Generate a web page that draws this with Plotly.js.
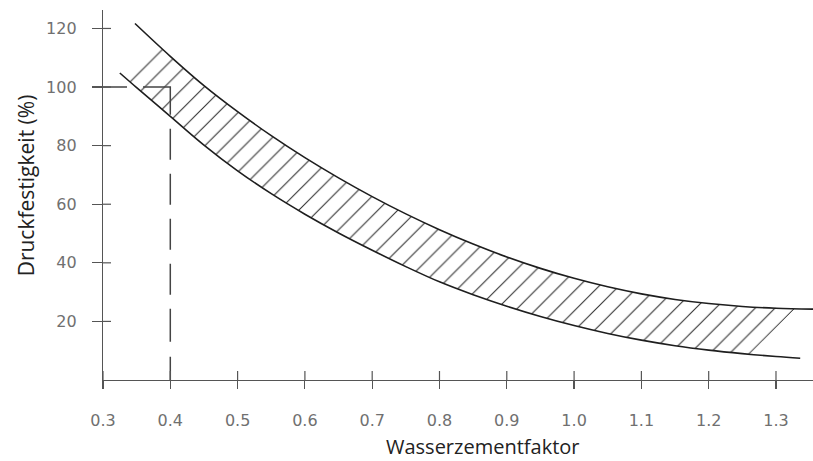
<!DOCTYPE html>
<html>
<head>
<meta charset="utf-8">
<script src="https://cdn.plot.ly/plotly-3.0.1.min.js"></script>
<style>html,body{margin:0;padding:0;background:#fff;}#chart{width:813px;height:461px;}</style>
</head>
<body>
<div id="chart"></div>
<script>
// Upper boundary of the strength band
const upperX = [0.3475, 0.40, 0.45, 0.50, 0.55, 0.60, 0.65, 0.70, 0.75, 0.80, 0.85, 0.90, 0.95, 1.00, 1.05, 1.10, 1.15, 1.20, 1.25, 1.30, 1.355];
const upperY = [121.7, 110.5, 100.5, 91.6, 83.4, 75.9, 69, 62.6, 56.7, 51.3, 46.4, 42, 38.1, 34.7, 31.8, 29.4, 27.5, 26.1, 25.1, 24.5, 24.2];
// Lower boundary of the strength band
const lowerX = [0.325, 0.35, 0.40, 0.45, 0.50, 0.55, 0.60, 0.65, 0.70, 0.75, 0.80, 0.85, 0.90, 0.95, 1.00, 1.05, 1.10, 1.15, 1.20, 1.25, 1.30, 1.336];
const lowerY = [104.8, 99.8, 90, 80.2, 71.4, 63.6, 56.6, 50.2, 44.3, 38.7, 33.5, 29.1, 25.2, 21.7, 18.6, 15.9, 13.6, 11.7, 10.2, 9, 8, 7.4];
// Extent of the hatching along each curve [start, end]
const hatchLowerX = [0.336, 1.261];
const hatchUpperX = [0.377, 1.328];
// Reference reading: w/c 0.4 -> 100 %
const refX = 0.4;
const refY = 100;
// Ticks
const xTickVals = [0.3, 0.4, 0.5, 0.6, 0.7, 0.8, 0.9, 1.0, 1.1, 1.2, 1.3];
const xTickText = ['0.3', '0.4', '0.5', '0.6', '0.7', '0.8', '0.9', '1.0', '1.1', '1.2', '1.3'];
const yTickVals = [20, 40, 60, 80, 100, 120];
const xTitle = 'Wasserzementfaktor';
const yTitle = 'Druckfestigkeit (%)';

function interp(xs, ys, x) {
  for (let i = 0; i < xs.length - 1; i++) {
    if (x >= xs[i] && x <= xs[i + 1]) {
      const t = (x - xs[i]) / (xs[i + 1] - xs[i]);
      return ys[i] + t * (ys[i + 1] - ys[i]);
    }
  }
  return x < xs[0] ? ys[0] : ys[ys.length - 1];
}

// Hatched polygon built from the two curves
const polyX = [], polyY = [];
polyX.push(hatchUpperX[0]); polyY.push(interp(upperX, upperY, hatchUpperX[0]));
upperX.forEach((x, i) => { if (x > hatchUpperX[0] && x < hatchUpperX[1]) { polyX.push(x); polyY.push(upperY[i]); } });
polyX.push(hatchUpperX[1]); polyY.push(interp(upperX, upperY, hatchUpperX[1]));
polyX.push(hatchLowerX[1]); polyY.push(interp(lowerX, lowerY, hatchLowerX[1]));
for (let i = lowerX.length - 1; i >= 0; i--) {
  if (lowerX[i] > hatchLowerX[0] && lowerX[i] < hatchLowerX[1]) { polyX.push(lowerX[i]); polyY.push(lowerY[i]); }
}
polyX.push(hatchLowerX[0]); polyY.push(interp(lowerX, lowerY, hatchLowerX[0]));

const W = 813, H = 461;
const M = {l: 103, r: 0, t: 10, b: 81};
const xr = [0.3, 1.355];
const yr = [0, 126.3];
const axisColor = '#555';

// Inner halves of the crossing tick marks (axis units per pixel from the layout)
const dxPerPx = (xr[1] - xr[0]) / (W - M.l - M.r);
const dyPerPx = (yr[1] - yr[0]) / (H - M.t - M.b);
const tickInX = [], tickInY = [];
xTickVals.forEach(v => { tickInX.push(v, v, null); tickInY.push(yr[0], yr[0] + 9 * dyPerPx, null); });
yTickVals.forEach(v => { tickInX.push(xr[0], xr[0] + 8 * dxPerPx, null); tickInY.push(v, v, null); });

const traces = [
  {
    x: polyX, y: polyY, type: 'scatter', mode: 'lines', fill: 'toself',
    line: {width: 0, color: 'rgba(0,0,0,0)'},
    fillcolor: 'rgba(0,0,0,0)',
    fillpattern: {shape: '/', size: 14, solidity: 0.08, fgcolor: '#333', bgcolor: 'rgba(0,0,0,0)'},
    hoverinfo: 'skip', showlegend: false
  },
  {
    x: upperX, y: upperY, type: 'scatter', mode: 'lines',
    line: {color: '#1e1e1e', width: 1.6, shape: 'spline', smoothing: 1},
    showlegend: false
  },
  {
    x: lowerX, y: lowerY, type: 'scatter', mode: 'lines',
    line: {color: '#1e1e1e', width: 1.6, shape: 'spline', smoothing: 1},
    showlegend: false
  },
  {
    x: [xr[0], refX, refX], y: [refY, refY, 0], type: 'scatter', mode: 'lines',
    line: {color: '#444', width: 1.5, dash: '24px,16px,55px,14px,31px,14px,31px,14px,31px,14px,31px,14px,33px,15px,40px'},
    showlegend: false
  },
  {
    x: tickInX, y: tickInY, type: 'scatter', mode: 'lines', connectgaps: false,
    line: {color: axisColor, width: 1.2}, hoverinfo: 'skip', showlegend: false
  }
];

const layout = {
  width: W, height: H,
  margin: {l: M.l, r: M.r, t: M.t, b: M.b, pad: 0},
  paper_bgcolor: '#fff', plot_bgcolor: '#fff',
  showlegend: false,
  xaxis: {
    range: xr, showgrid: false, zeroline: false,
    showline: true, linecolor: axisColor, linewidth: 1.2,
    ticks: 'outside', ticklen: 8, tickwidth: 1.2, tickcolor: axisColor,
    tickvals: xTickVals, ticktext: xTickText, ticklabelstandoff: 18,
    tickfont: {family: 'DejaVu Sans', size: 16, color: '#707070'}
  },
  yaxis: {
    range: yr, showgrid: false, zeroline: false,
    showline: true, linecolor: axisColor, linewidth: 1.2,
    ticks: 'outside', ticklen: 10, tickwidth: 1.2, tickcolor: axisColor,
    tickvals: yTickVals, ticklabelstandoff: 12,
    tickfont: {family: 'DejaVu Sans', size: 16, color: '#707070'}
  },
  annotations: [
    {text: xTitle, xref: 'paper', yref: 'paper', x: 0.535, y: -0.179, xanchor: 'center', yanchor: 'middle',
     showarrow: false, font: {family: 'Open Sans', size: 20, color: '#222'}},
    {text: yTitle, xref: 'paper', yref: 'paper', x: -0.108, y: 0.527, xanchor: 'center', yanchor: 'middle',
     textangle: -90, showarrow: false, font: {family: 'Open Sans', size: 21, color: '#222'}}
  ]
};

Plotly.newPlot('chart', traces, layout, {staticPlot: true, displayModeBar: false});
</script>
</body>
</html>
